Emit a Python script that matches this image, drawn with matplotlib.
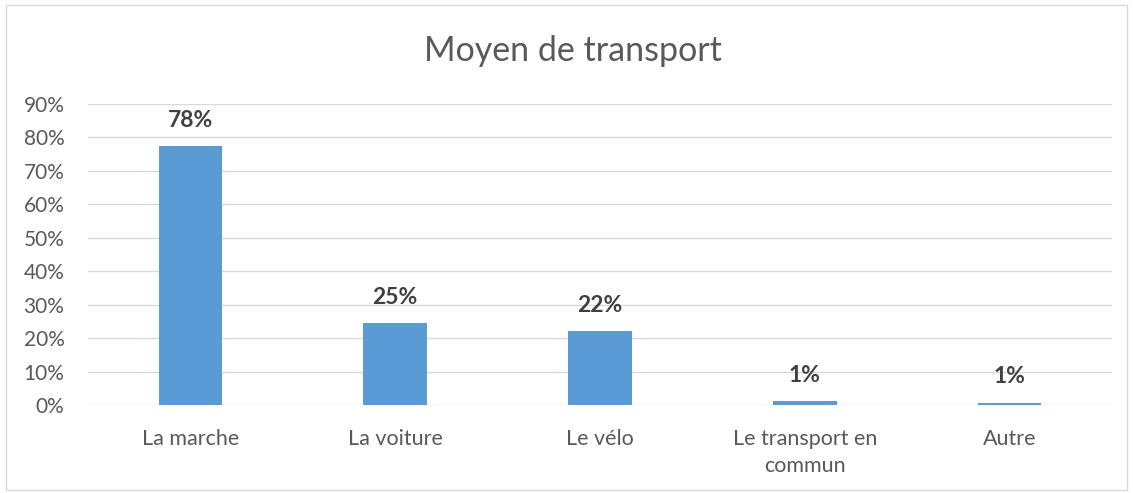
import matplotlib
matplotlib.use("Agg")
import matplotlib.pyplot as plt
from matplotlib.patches import Rectangle

categories = ["La marche", "La voiture", "Le vélo", "Le transport en\ncommun", "Autre"]
values = [0.775, 0.245, 0.221, 0.012, 0.007]
value_labels = ["78%", "25%", "22%", "1%", "1%"]
yticks = [0.0, 0.1, 0.2, 0.3, 0.4, 0.5, 0.6, 0.7, 0.8, 0.9]
ytick_labels = ["0%", "10%", "20%", "30%", "40%", "50%", "60%", "70%", "80%", "90%"]

plt.rcParams['font.family'] = ['Lato', 'DejaVu Sans']

W, H = 1133, 493
fig = plt.figure(figsize=(W/100, H/100), dpi=100)
fig.patches.append(Rectangle((6/W, 1 - 490/H), (1127-6)/W, (490-5)/H,
                             transform=fig.transFigure, fill=False,
                             edgecolor="#d9d9d9", linewidth=1))

ax = fig.add_axes([88/W, 1 - 405/H, (1112-88)/W, (405-104)/H])
x = list(range(len(categories)))
ax.bar(x, values, width=0.31, color="#5b9bd5", zorder=3)
ax.set_xlim(-0.5, len(categories) - 0.5)
ax.set_ylim(0, 0.9)
ax.set_yticks(yticks)
ax.set_yticklabels(ytick_labels, fontsize=15, color="#595959")
ax.set_xticks(x)
ax.set_xticklabels(categories, fontsize=15.5, color="#595959", linespacing=1.45)
ax.tick_params(axis="both", length=0)
ax.tick_params(axis="x", pad=17)
ax.tick_params(axis="y", pad=17)
ax.grid(axis="y", color="#d9d9d9", linewidth=1, zorder=0)
for s in ax.spines.values():
    s.set_visible(False)

for xi, v, lab in zip(x, values, value_labels):
    ax.annotate(lab, (xi, v), xytext=(0, 11), textcoords="offset points",
                ha="center", va="bottom", fontsize=16.5, fontweight="bold",
                color="#404040")

fig.text(573/W, 1 - 51/H, "Moyen de transport", ha="center", va="center",
         fontsize=24.5, color="#595959")

fig.savefig("out.png", dpi=100)
